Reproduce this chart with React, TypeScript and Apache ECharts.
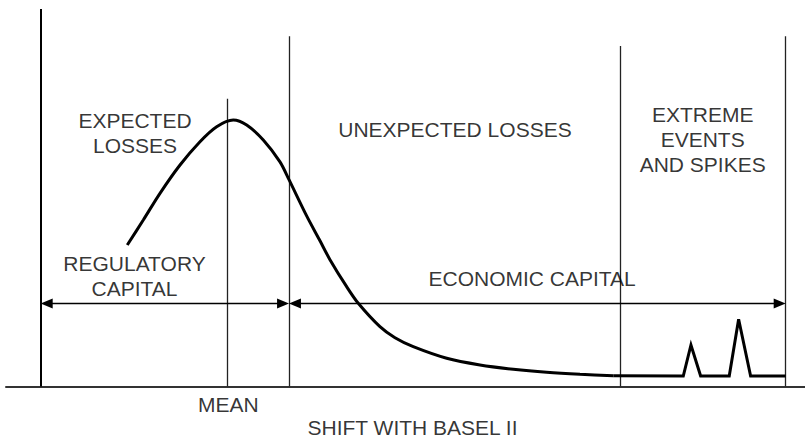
import React, { useEffect, useRef } from "react";
import * as echarts from "echarts";

// Loss distribution curve (smooth part)
const curveX = [11.62, 13.77, 16.01, 18.7, 21.38, 23.62, 25.85, 27.65, 29.88, 32.12, 33.33, 35.7, 37.49, 38.83, 41.07, 42.63, 45.54, 47.56, 50.01, 54.5, 58.97, 63.44, 67.92, 72.4, 76.86];
const curveY = [37.48, 44.11, 51.18, 58.68, 64.85, 68.82, 70.6, 69.27, 65.3, 59.5, 54.8, 45.2, 38.6, 33.6, 26.44, 22.04, 15.84, 12.9, 10.54, 7.47, 5.7, 4.56, 3.76, 3.23, 2.86];

// Tail with extreme spikes
const tailX = [76.86, 86.26, 87.29, 88.59, 92.43, 93.69, 95.3, 100];
const tailY = [2.86, 2.78, 10.99, 2.78, 2.78, 17.8, 2.78, 2.78];

// Vertical dividers
const dividerX = [0, 25.1, 33.33, 77.76, 100];
const dividerTop = [100, 76.2, 92.8, 90.2, 92.8];

// Capital spans (arrows)
const spanStart = [0, 33.33];
const spanEnd = [33.33, 100];
const spanLevel = [22.0, 22.0];

// Text labels
const labelTexts = [
  "EXPECTED\nLOSSES",
  "UNEXPECTED LOSSES",
  "EXTREME\nEVENTS\nAND SPIKES",
  "REGULATORY\nCAPITAL",
  "ECONOMIC CAPITAL",
  "MEAN",
  "SHIFT WITH BASEL II",
];
const labelX = [12.66, 55.61, 88.86, 12.59, 65.97, 25.18, 49.91];
const labelY = [67.15, 67.95, 65.43, 29.27, 28.74, -4.64, -10.99];

const FONT = "'Liberation Sans', Arial, Helvetica, sans-serif";
const ARROW_INSET = 0.8;

export default function App() {
  const ref = useRef<HTMLDivElement>(null);
  useEffect(() => {
    if (!ref.current) return;
    const chart = echarts.init(ref.current, undefined, { renderer: "svg" });
    const dividerLines = dividerX.map((x, i) => [
      {
        coord: [x, 0],
        lineStyle: i === 0 ? { color: "#000", width: 2 } : { color: "#222", width: 1.3 },
      },
      { coord: [x, dividerTop[i]] },
    ]);
    const arrowLines = spanStart.map((s, i) => [
      { coord: [s + ARROW_INSET, spanLevel[i]] },
      { coord: [spanEnd[i] - ARROW_INSET, spanLevel[i]] },
    ]);
    chart.setOption({
      animation: false,
      grid: { left: 6, right: 0, top: 9, bottom: 51.5 },
      xAxis: {
        type: "value",
        min: -4.66,
        max: 102.6,
        axisLine: { show: true, lineStyle: { color: "#333", width: 2 } },
        axisTick: { show: false },
        axisLabel: { show: false },
        splitLine: { show: false },
      },
      yAxis: {
        type: "value",
        min: 0,
        max: 100,
        show: false,
        splitLine: { show: false },
      },
      series: [
        {
          type: "line",
          data: [],
          silent: true,
          markLine: {
            silent: true,
            symbol: ["none", "none"],
            label: { show: false },
            lineStyle: { type: "solid" },
            data: dividerLines,
          },
        },
        {
          type: "line",
          data: [],
          silent: true,
          markLine: {
            silent: true,
            symbol: ["triangle", "triangle"],
            symbolSize: [10, 12],
            label: { show: false },
            lineStyle: { type: "solid", color: "#000", width: 1.3 },
            itemStyle: { color: "#000" },
            data: arrowLines,
          },
        },
        {
          type: "line",
          data: curveX.map((x, i) => [x, curveY[i]]),
          smooth: 0.3,
          symbol: "none",
          lineStyle: { color: "#000", width: 3 },
          z: 5,
        },
        {
          type: "line",
          data: tailX.map((x, i) => [x, tailY[i]]),
          smooth: false,
          symbol: "none",
          lineStyle: { color: "#000", width: 3, join: "miter" },
          z: 5,
        },
        {
          type: "scatter",
          clip: false,
          symbolSize: 0,
          silent: true,
          data: labelX.map((x, i) => ({ value: [x, labelY[i]], name: labelTexts[i] })),
          label: {
            show: true,
            position: "inside",
            formatter: "{b}",
            color: "#000",
            fontSize: 21,
            lineHeight: 25,
            fontFamily: FONT,
            align: "center",
            verticalAlign: "middle",
          },
          z: 6,
        },
      ],
    });
    return () => chart.dispose();
  }, []);
  return (
    <div
      ref={ref}
      style={{ position: "fixed", left: 0, top: 0, width: 805, height: 438, background: "#fff" }}
    />
  );
}
